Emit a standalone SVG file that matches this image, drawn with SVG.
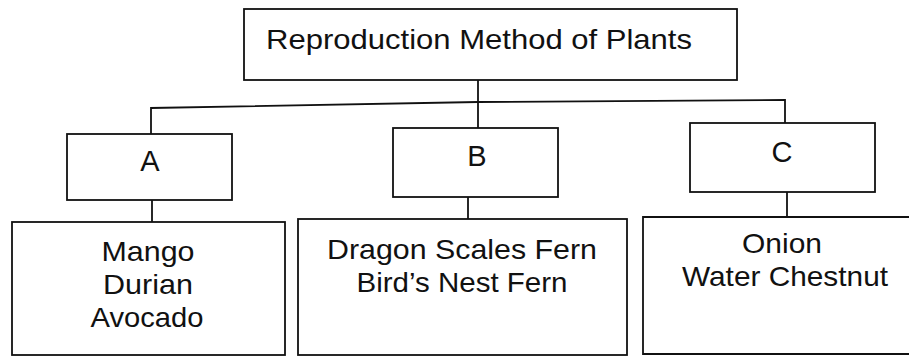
<svg xmlns="http://www.w3.org/2000/svg" width="909" height="356" viewBox="0 0 909 356">
<style>
.box{fill:none;stroke:#111;stroke-width:1.8}
.ln{fill:none;stroke:#111;stroke-width:1.8}
text{font-family:"Liberation Sans",Arial,sans-serif;font-size:28px;fill:#111;text-anchor:middle}
.big{font-size:29px}
</style>
<rect width="909" height="356" fill="#fff"/>
<g id="connectors">
<line class="ln" x1="478" y1="80" x2="478" y2="102"/>
<polyline class="ln" points="151,134 151,108 478,102 785,100 785,123"/>
<line class="ln" x1="478" y1="102" x2="478" y2="128"/>
<line class="ln" x1="152" y1="200" x2="152" y2="222"/>
<line class="ln" x1="468" y1="197" x2="468" y2="219"/>
<line class="ln" x1="787" y1="192" x2="787" y2="217"/>
</g>
<g id="root">
<rect class="box" x="244" y="9" width="493" height="71"/>
<text x="479" y="49" font-size="25" textLength="426" lengthAdjust="spacingAndGlyphs">Reproduction Method of Plants</text>
</g>
<g id="nodeA">
<rect class="box" x="67" y="134" width="165" height="66"/>
<text class="big" x="150" y="171">A</text>
</g>
<g id="nodeB">
<rect class="box" x="393" y="128" width="165" height="69"/>
<text class="big" x="477" y="166">B</text>
</g>
<g id="nodeC">
<rect class="box" x="690" y="123" width="185" height="69"/>
<text class="big" x="782" y="162">C</text>
</g>
<g id="listA">
<rect class="box" x="12" y="222" width="273" height="133"/>
<text x="148" y="261" textLength="93" lengthAdjust="spacingAndGlyphs">Mango</text>
<text x="148" y="294" textLength="90" lengthAdjust="spacingAndGlyphs">Durian</text>
<text x="147" y="327" textLength="113" lengthAdjust="spacingAndGlyphs">Avocado</text>
</g>
<g id="listB">
<rect class="box" x="298" y="219" width="329" height="136"/>
<text x="462" y="259" textLength="270" lengthAdjust="spacingAndGlyphs">Dragon Scales Fern</text>
<text x="462" y="292" textLength="211" lengthAdjust="spacingAndGlyphs">Bird’s Nest Fern</text>
</g>
<g id="listC">
<path class="box" d="M910,217 H643 V354 H910"/>
<text x="782" y="253" textLength="80" lengthAdjust="spacingAndGlyphs">Onion</text>
<text x="785" y="286" textLength="206" lengthAdjust="spacingAndGlyphs">Water Chestnut</text>
</g>
</svg>
